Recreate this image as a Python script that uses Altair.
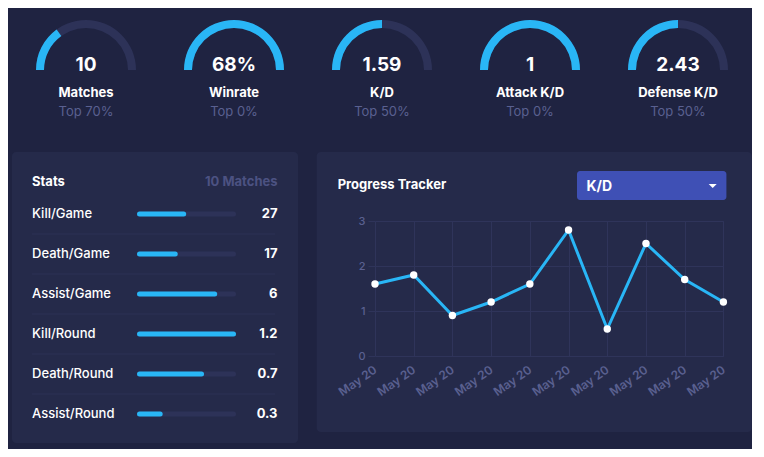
import json
import math
import altair as alt
import pandas as pd

# ---------------- data ----------------
gauge_values = ["10", "68%", "1.59", "1", "2.43"]
gauge_labels = ["Matches", "Winrate", "K/D", "Attack K/D", "Defense K/D"]
gauge_top = [70, 0, 50, 0, 50]
gauge_fill = [30, 100, 50, 100, 50]

stats_title = "Stats"
stats_matches = "10 Matches"
stat_names = ["Kill/Game", "Death/Game", "Assist/Game", "Kill/Round", "Death/Round", "Assist/Round"]
stat_values = ["27", "17", "6", "1.2", "0.7", "0.3"]
stat_bar_pct = [47, 38, 80, 100, 66, 22]

tracker_title = "Progress Tracker"
tracker_metric = "K/D"
kd_values = [1.6, 1.8, 0.9, 1.2, 1.6, 2.8, 0.6, 2.5, 1.7, 1.2]
kd_dates = ["May 20", "May 20", "May 20", "May 20", "May 20",
            "May 20", "May 20", "May 20", "May 20", "May 20"]
y_ticks = [0, 1, 2, 3]

# ---------------- style ----------------
FONT = "Inter"
BG = "#1f2341"
PANEL = "#252a4a"
BLUE = "#29b6f6"
TRACK = "#2d3258"
GRAY = "#5a6090"
GRAY2 = "#4c5282"
GRID = "#2f345a"
SEP = "#2c3154"
DROP = "#3f50b5"
WHITE = "#ffffff"


def gauge(i):
    arcs = pd.DataFrame({"part": ["track", "fill"], "start": [0, 0],
                         "end": [100, gauge_fill[i]]})
    tscale = alt.Scale(domain=[0, 100], range=[1.5 * math.pi, 2.5 * math.pi])
    base = alt.Chart(arcs)
    track = base.transform_filter(alt.datum.part == "track").mark_arc(
        radius=50, radius2=42, color=TRACK
    ).encode(theta=alt.Theta("start:Q", scale=tscale, stack=False), theta2="end:Q")
    fill = base.transform_filter(alt.datum.part == "fill").mark_arc(
        radius=50, radius2=42, color=BLUE
    ).encode(theta=alt.Theta("start:Q", scale=tscale, stack=False), theta2="end:Q")

    txt = pd.DataFrame({"value": [gauge_values[i]], "label": [gauge_labels[i]],
                        "top": [gauge_top[i]]})
    tb = alt.Chart(txt)
    val = tb.mark_text(font=FONT, fontSize=19, fontWeight="bold", color=WHITE,
                       baseline="alphabetic", align="center").encode(
        x=alt.value(74), y=alt.value(63), text="value:N")
    lab = tb.mark_text(font=FONT, fontSize=13, fontWeight="bold", color=WHITE,
                       baseline="alphabetic", align="center").encode(
        x=alt.value(74), y=alt.value(89), text="label:N")
    top = tb.transform_calculate(tl="'Top ' + datum.top + '%'").mark_text(
        font=FONT, fontSize=13, color=GRAY, baseline="alphabetic", align="center"
    ).encode(x=alt.value(74), y=alt.value(107.5), text="tl:N")
    return alt.layer(track, fill, val, lab, top).properties(width=148, height=124)


gauges = [gauge(i) for i in range(len(gauge_values))]

# ---------------- stats panel ----------------
sdf = pd.DataFrame({"name": stat_names, "value": stat_values, "pct": stat_bar_pct,
                    "zero": [0] * len(stat_names), "full": [100] * len(stat_names)})
sb = alt.Chart(sdf)
yname = alt.Y("name:N", axis=None,
              scale=alt.Scale(type="point", domain=stat_names, range=[62, 262], padding=0))
xs = alt.Scale(domain=[0, 100], range=[127.5, 221.5])

sep = sb.transform_filter(alt.datum.name != stat_names[-1]).mark_rule(
    color=SEP, strokeWidth=1, yOffset=20
).encode(x=alt.value(20), x2=alt.value(263), y=yname)
trk = sb.mark_rule(color=TRACK, strokeWidth=5, strokeCap="round").encode(
    x=alt.X("zero:Q", scale=xs, axis=None), x2="full:Q", y=yname)
bar = sb.mark_rule(color=BLUE, strokeWidth=5, strokeCap="round").encode(
    x=alt.X("zero:Q", scale=xs, axis=None), x2="pct:Q", y=yname)
names = sb.mark_text(font=FONT, fontSize=13, fontWeight=500, color=WHITE,
                     align="left", baseline="middle").encode(
    x=alt.value(20), y=yname, text="name:N")
vals = sb.mark_text(font=FONT, fontSize=13, fontWeight="bold", color=WHITE,
                    align="right", baseline="middle").encode(
    x=alt.value(265.5), y=yname, text="value:N")

hdf = pd.DataFrame({"title": [stats_title], "matches": [stats_matches]})
hb = alt.Chart(hdf)
st_title = hb.mark_text(font=FONT, fontSize=13, fontWeight="bold", color=WHITE,
                        align="left", baseline="alphabetic").encode(
    x=alt.value(20), y=alt.value(34), text="title:N")
st_match = hb.mark_text(font=FONT, fontSize=13, fontWeight="bold", color=GRAY2,
                        align="right", baseline="alphabetic").encode(
    x=alt.value(265.5), y=alt.value(34), text="matches:N")

stats = alt.layer(sep, trk, bar, names, vals, st_title, st_match).properties(
    width=286, height=291,
    view=alt.ViewBackground(fill=PANEL, stroke=None, cornerRadius=4))

# ---------------- progress tracker ----------------
pdf_ = pd.DataFrame({"title": [tracker_title], "metric": [tracker_metric]})
pb = alt.Chart(pdf_)
p_bg = pb.mark_rect(color=PANEL, cornerRadius=4).encode(
    x=alt.value(-58.3), x2=alt.value(376.7), y=alt.value(0), y2=alt.value(280))
p_title = pb.mark_text(font=FONT, fontSize=13, fontWeight="bold", color=WHITE,
                       align="left", baseline="alphabetic").encode(
    x=alt.value(-37.3), y=alt.value(37), text="title:N")
p_dd = pb.mark_rect(color=DROP, cornerRadius=3).encode(
    x=alt.value(202), x2=alt.value(351.4), y=alt.value(19), y2=alt.value(48))
p_metric = pb.mark_text(font=FONT, fontSize=14, fontWeight="bold", color=WHITE,
                        align="left", baseline="alphabetic").encode(
    x=alt.value(211.4), y=alt.value(38.5), text="metric:N")
p_caret = pb.mark_point(shape="M-1,-0.5L1,-0.5L0,0.5Z", filled=True, size=64,
                        color=WHITE, opacity=1, strokeWidth=0).encode(
    x=alt.value(337.7), y=alt.value(34))
header = alt.layer(p_bg, p_title, p_dd, p_metric, p_caret).properties(width=348.4, height=69)

ldf = pd.DataFrame({"idx": list(range(len(kd_values))), "kd": kd_values, "date": kd_dates})
label_expr = json.dumps(kd_dates) + "[datum.value]"
lx = alt.X("idx:Q",
           scale=alt.Scale(domain=[0, len(kd_values) - 1], nice=False, zero=False),
           axis=alt.Axis(values=list(range(len(kd_values))), labelExpr=label_expr,
                         labelAngle=325, labelAlign="right", labelBaseline="middle",
                         labelPadding=12, ticks=False, domain=False, grid=True,
                         gridColor=GRID, labelColor=GRAY, labelFontSize=12,
                         labelFontWeight=600, labelFont=FONT, labelOverlap=False,
                         labelFlush=False, labelBound=False, title=None))
ly = alt.Y("kd:Q", scale=alt.Scale(domain=[0, 3], nice=False),
           axis=alt.Axis(values=y_ticks, tickSize=7, tickColor=GRID, domain=False,
                         grid=True, gridColor=GRID, labelColor=GRAY, labelFontSize=11,
                         labelFont=FONT, labelFontWeight=500, labelPadding=3, title=None))
lb = alt.Chart(ldf)
line = lb.mark_line(color=BLUE, strokeWidth=3).encode(x=lx, y=ly)
pts = lb.mark_circle(color=WHITE, size=55, opacity=1).encode(x=lx, y=ly)
line_chart = alt.layer(line, pts).properties(width=348.4, height=135)

progress = alt.vconcat(header, line_chart, spacing=0, bounds="flush")
bottom = alt.hconcat(stats, progress, spacing=77, bounds="flush")
top_row = alt.hconcat(*gauges, spacing=0, bounds="flush")

chart = alt.vconcat(top_row, bottom, spacing=20, bounds="full").properties(
    background=BG, padding={"left": 4, "top": 0, "right": 0, "bottom": 6}
).configure(font=FONT).configure_view(stroke=None)

chart.save("out.html", embed_options={"renderer": "svg", "actions": False})
